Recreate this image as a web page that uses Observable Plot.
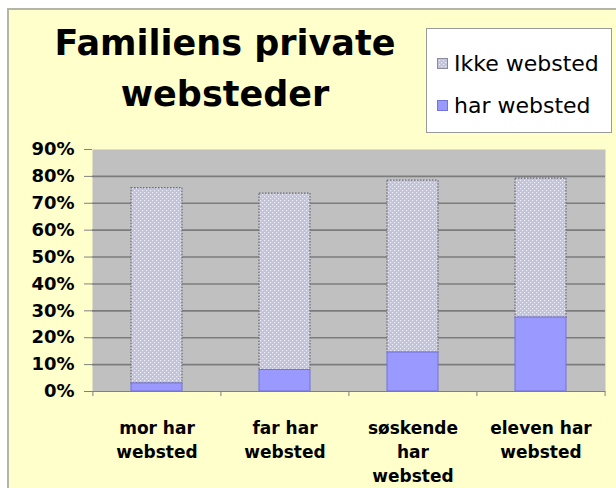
<!DOCTYPE html>
<html><head><meta charset="utf-8">
<script src="https://cdn.jsdelivr.net/npm/d3@7"></script>
<script src="https://cdn.jsdelivr.net/npm/@observablehq/plot@0.6"></script>
<style>
html,body{margin:0;padding:0;background:#fff;}
#wrap{position:relative;width:616px;height:488px;overflow:hidden;}
#bg{position:absolute;left:7px;top:8px;width:620px;height:490px;background:#ffffcc;border-top:2px solid #b4b4a8;border-left:2px solid #b4b4a8;}
#chart{position:absolute;left:0;top:0;}
#title{position:absolute;left:25px;width:400px;top:18px;text-align:center;font-weight:bold;font-size:35px;font-family:"DejaVu Sans",sans-serif;line-height:51px;color:#000;}
#legend{position:absolute;left:426px;top:28px;width:186px;height:105px;background:#fff;border:1px solid #9a9a9a;box-sizing:border-box;font-size:22px;font-family:"DejaVu Sans",sans-serif;color:#000;}
.item{position:absolute;left:10px;display:flex;align-items:center;white-space:nowrap;line-height:26px;}
.item svg{margin-right:5px;}
</style></head>
<body>
<div id="wrap">
  <div id="bg"></div>
  <div id="chart"></div>
  <div id="title">Familiens private<br>websteder</div>
  <div id="legend"></div>
</div>
<script>
const categories = ["mor har websted", "far har websted", "søskende har websted", "eleven har websted"];
const xLabels = ["mor har\nwebsted", "far har\nwebsted", "søskende\nhar\nwebsted", "eleven har\nwebsted"];
const seriesNames = ["Ikke websted", "har websted"];
const harValues = [3, 8, 14.5, 27.5];
const ikkeValues = [72.6, 65.6, 63.9, 51.7];
const yTicks = [0, 10, 20, 30, 40, 50, 60, 70, 80, 90];

const rows = categories.map((c, i) => ({cat: c, har: harValues[i], ikke: ikkeValues[i], top: harValues[i] + ikkeValues[i]}));

const chart = Plot.plot({
  width: 616,
  height: 488,
  marginLeft: 92,
  marginRight: 11,
  marginTop: 149,
  marginBottom: 97,
  style: {background: "transparent", fontFamily: "'DejaVu Sans', sans-serif", color: "#000"},
  x: {domain: categories, paddingInner: 0.6, paddingOuter: 0.3, axis: null},
  y: {domain: [0, 90], axis: null},
  marks: [
    Plot.frame({fill: "#c0c0c0", stroke: "none"}),
    Plot.ruleY(yTicks.filter(t => t > 0 && t < 90), {stroke: "#7c7c7c", strokeWidth: 1.6}),
    Plot.ruleY([0], {stroke: "#808080", strokeWidth: 1.2}),
    Plot.ruleX(categories, {x: d => d, dx: -64.1, y1: 0, y2: -1.9, stroke: "#808080"}),
    Plot.ruleX([categories[categories.length - 1]], {x: d => d, dx: 64.1, y1: 0, y2: -1.9, stroke: "#808080"}),
    Plot.barY(rows, {x: "cat", y1: "har", y2: "top", fill: "url(#dots)", stroke: "#6a6a78", strokeWidth: 1.2, strokeDasharray: "1.5,1.5", inset: 0}),
    Plot.barY(rows, {x: "cat", y1: 0, y2: "har", fill: "#9999ff", stroke: "#7373d9", strokeWidth: 1, inset: 0}),
    Plot.axisY({ticks: yTicks, tickFormat: d => d + "%", tickSize: 8, tickPadding: 10, stroke: "#808080", fontSize: 18, fontWeight: "bold", letterSpacing: 1.5}),
    Plot.text(categories, {x: d => d, text: (d, i) => xLabels[i], frameAnchor: "bottom", lineAnchor: "top", dy: 26, fontSize: 17, fontWeight: "bold", lineHeight: 1.4, letterSpacing: 0.5, fill: "#000"})
  ]
});

const defs = d3.select(chart).insert("defs", ":first-child");
const pat = defs.append("pattern").attr("id", "dots").attr("patternUnits", "userSpaceOnUse").attr("width", 4).attr("height", 4);
pat.append("rect").attr("width", 4).attr("height", 4).attr("fill", "#c2c2d8");
pat.append("rect").attr("x", 0).attr("y", 0).attr("width", 1.2).attr("height", 1.2).attr("fill", "#eeeef8");
pat.append("rect").attr("x", 2).attr("y", 2).attr("width", 1.2).attr("height", 1.2).attr("fill", "#eeeef8");
document.getElementById("chart").appendChild(chart);

const legend = document.getElementById("legend");
const swFills = ["url(#dots)", "#9999ff"];
const swStroke = ["#8a8a9a", "#7373d9"];
const tops = [22, 64];
seriesNames.forEach((name, i) => {
  const it = document.createElement("div");
  it.className = "item";
  it.style.top = tops[i] + "px";
  it.innerHTML = `<svg width="12" height="12"><rect x="0.5" y="0.5" width="10" height="10" fill="${swFills[i]}" stroke="${swStroke[i]}" stroke-width="1"></rect></svg><span>${name}</span>`;
  legend.appendChild(it);
});
</script>
</body></html>
